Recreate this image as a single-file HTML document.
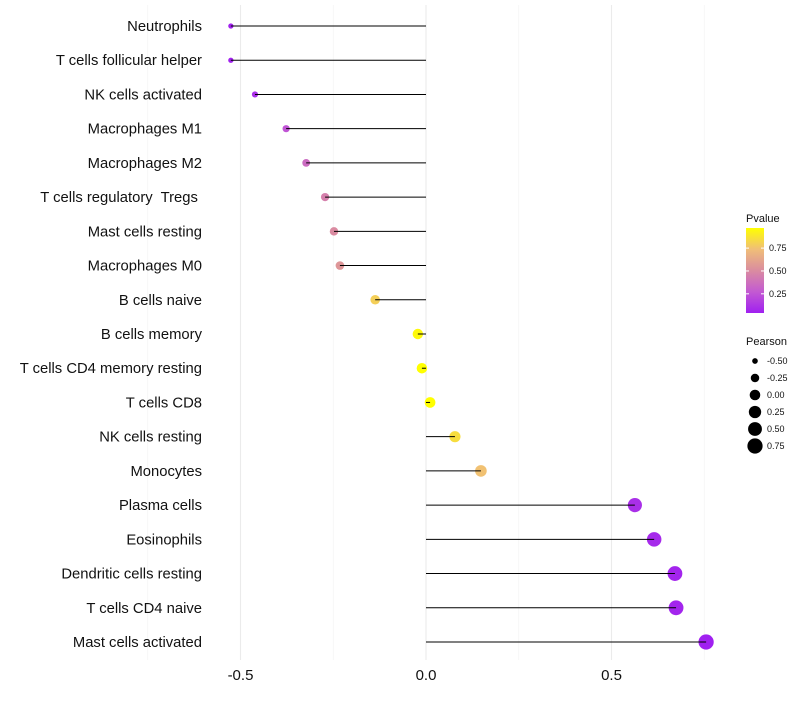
<!DOCTYPE html>
<html><head><meta charset="utf-8"><style>
body{margin:0;background:#fff;font-family:"Liberation Sans",sans-serif}
svg text{font-family:"Liberation Sans",sans-serif;white-space:pre}
</style></head><body>
<svg id="c" width="800" height="700"></svg>
<script>
const categories=["Neutrophils","T cells follicular helper","NK cells activated","Macrophages M1","Macrophages M2","T cells regulatory  Tregs ","Mast cells resting","Macrophages M0","B cells naive","B cells memory","T cells CD4 memory resting","T cells CD8","NK cells resting","Monocytes","Plasma cells","Eosinophils","Dendritic cells resting","T cells CD4 naive","Mast cells activated"];
const pearson=[-0.526,-0.526,-0.461,-0.377,-0.323,-0.272,-0.248,-0.232,-0.137,-0.022,-0.011,0.011,0.078,0.148,0.563,0.615,0.671,0.674,0.755];
const pvalue=[0.05,0.05,0.1,0.25,0.35,0.45,0.5,0.55,0.8,0.95,0.97,0.97,0.85,0.75,0.1,0.08,0.06,0.06,0.04];
const xTicks=[-0.5,0,0.5];
const xTickLabels=["-0.5","0.0","0.5"];
const colorTicks=[0.25,0.5,0.75];
const sizeTicks=[-0.5,-0.25,0,0.25,0.5,0.75];
const NS="http://www.w3.org/2000/svg",svg=document.getElementById('c');
function mk(t,a,p){const e=document.createElementNS(NS,t);for(const k in a)e.setAttribute(k,a[k]);(p||svg).appendChild(e);return e;}
const xS=v=>426+v*371;
const yS=i=>26+i*(616/(categories.length-1));
const pMin=0.04,pMax=0.97;
const stops=[[0,[160,32,240]],[0.25,[195,90,210]],[0.5,[218,140,160]],[0.75,[240,190,120]],[1,[255,255,0]]];
function col(p){let t=(p-pMin)/(pMax-pMin);t=Math.max(0,Math.min(1,t));
for(let k=1;k<stops.length;k++){if(t<=stops[k][0]){const [t0,a]=stops[k-1],[t1,b]=stops[k];const f=(t-t0)/(t1-t0);
return `rgb(${a.map((v,i)=>Math.round(v+(b[i]-v)*f)).join(',')})`;}}return 'rgb(255,255,0)';}
const rS=v=>Math.sqrt(Math.max(4,28+40*v));
[-0.75,-0.25,0.25,0.75].forEach(v=>{const g=mk('line',{x1:xS(v),x2:xS(v),y1:5,y2:660,stroke:'#f2f2f2','stroke-width':0.6});

});
xTicks.forEach((v,i)=>{const g=mk('line',{x1:xS(v),x2:xS(v),y1:5,y2:660,stroke:'#ebebeb','stroke-width':1.1});


const t=mk('text',{x:xS(v),y:680,'text-anchor':'middle','font-size':15,fill:'#111'});t.textContent=xTickLabels[i];

});
categories.forEach((c,i)=>{
const y=yS(i);
const t=mk('text',{x:202,y:y+5,'text-anchor':'end','font-size':14.8,fill:'#111'});t.textContent=c;


const d=mk('circle',{cx:xS(pearson[i]),cy:y,r:rS(pearson[i]),fill:col(pvalue[i])});


const l=mk('line',{x1:xS(0),x2:xS(pearson[i]),y1:y,y2:y,stroke:'#000','stroke-width':1});


});
const lt=mk('text',{x:746,y:222,'font-size':11,fill:'#111'});lt.textContent='Pvalue';


const defs=mk('defs',{});const gr=mk('linearGradient',{id:'g',x1:0,y1:1,x2:0,y2:0},defs);
stops.forEach(s=>mk('stop',{offset:s[0],'stop-color':`rgb(${s[1].join(',')})`},gr));
const bar=mk('rect',{x:746,y:228,width:18,height:85,fill:'url(#g)'});


const cy=p=>313-(p-pMin)/(pMax-pMin)*85;
colorTicks.forEach(p=>{mk('line',{x1:746,x2:749,y1:cy(p),y2:cy(p),stroke:'#fff'});mk('line',{x1:761,x2:764,y1:cy(p),y2:cy(p),stroke:'#fff'});
const t=mk('text',{x:769,y:cy(p)+3,'font-size':9,fill:'#111'});t.textContent=p.toFixed(2);

});
const st=mk('text',{x:746,y:345,'font-size':11,fill:'#111'});st.textContent='Pearson';


sizeTicks.forEach((v,i)=>{const y=361+i*17;mk('circle',{cx:755,cy:y,r:rS(v),fill:'#000'});
const t=mk('text',{x:767,y:y+3,'font-size':9,fill:'#111'});t.textContent=v.toFixed(2);

});
</script>
</body></html>
